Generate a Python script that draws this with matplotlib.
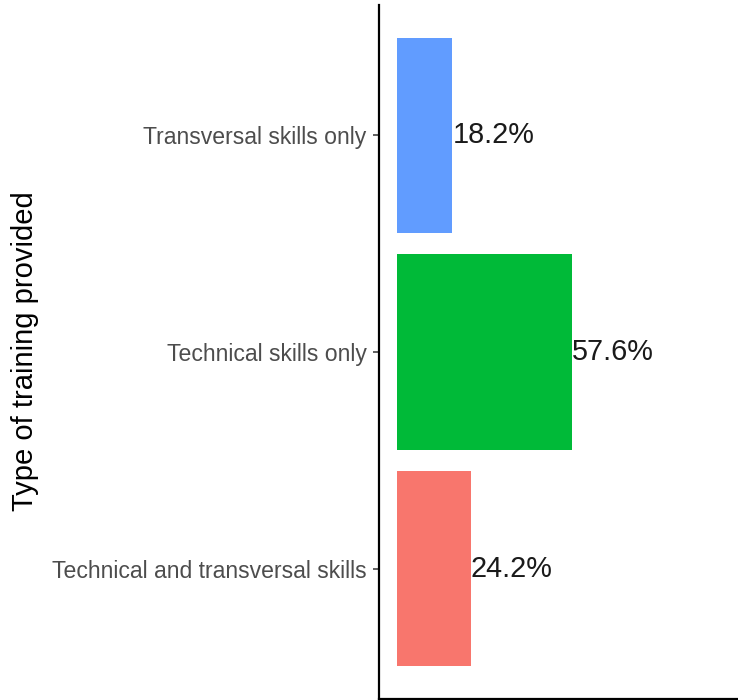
import matplotlib
matplotlib.use("Agg")
import matplotlib.pyplot as plt

# data (bottom to top)
categories = ["Technical and transversal skills", "Technical skills only", "Transversal skills only"]
shares = [24.2, 57.6, 18.2]
colors = ["#F8766D", "#00BA38", "#619CFF"]
labels = [f"{v:.1f}%" for v in shares]

plt.rcParams["font.family"] = ["Liberation Sans", "DejaVu Sans"]

fig = plt.figure(figsize=(7.38, 7.0), dpi=100)
ax = fig.add_axes([379 / 738, 1 / 700, 1 - 379 / 738, 694 / 700])

ypos = list(range(1, len(categories) + 1))
ax.barh(ypos, shares, height=0.9, color=colors)
for y, v, t in zip(ypos, shares, labels):
    ax.text(v, y, t, ha="left", va="center", fontsize=20.8, color="#1a1a1a")

ax.set_xlim(-5.9, 112)
ax.set_ylim(0.4, 3.6)
ax.set_yticks(ypos)
ax.set_yticklabels(categories, fontsize=16.6, color="#4D4D4D")
ax.set_xticks([])
ax.tick_params(axis="y", length=4, width=1.1, color="#333333", pad=5)
fig.text(25 / 738, 0.4986, "Type of training provided", rotation=90,
         ha="center", va="center", fontsize=21, color="black")

for s in ["top", "right"]:
    ax.spines[s].set_visible(False)
for s in ["left", "bottom"]:
    ax.spines[s].set_linewidth(1.6)
    ax.spines[s].set_color("black")

fig.savefig("out.png", dpi=100)
